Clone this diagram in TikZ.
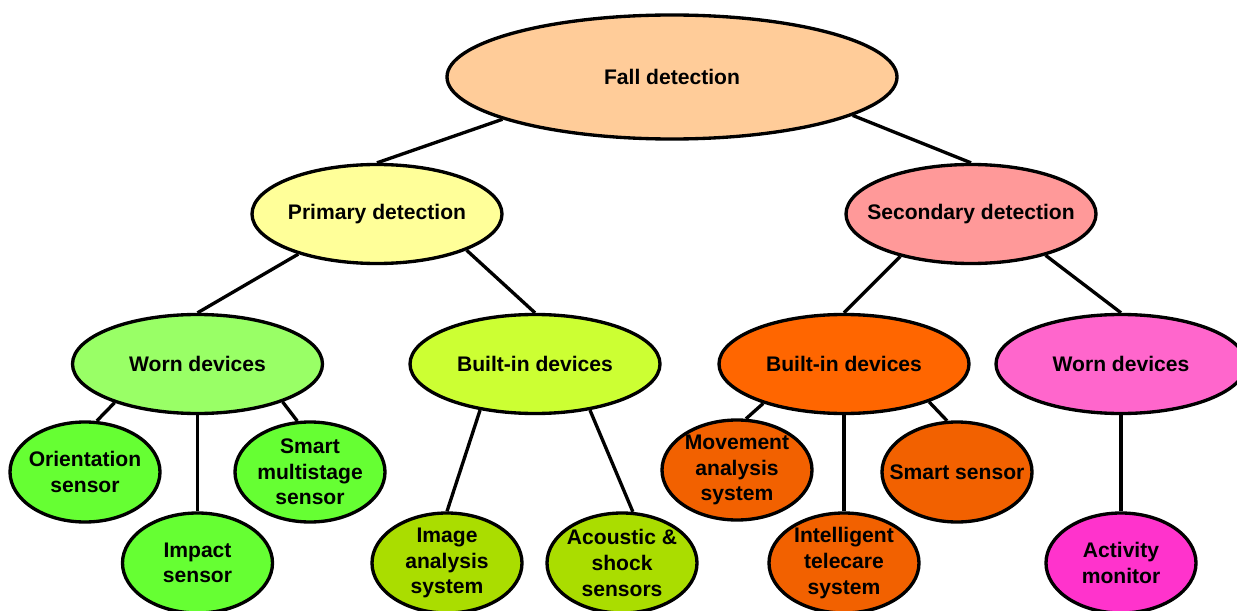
\documentclass[tikz,border=0pt]{standalone}
\usepackage{fontspec}
\setmainfont{Liberation Sans}
\usetikzlibrary{positioning,shapes.geometric}
\definecolor{peach}{HTML}{FFCC99}
\definecolor{paleyellow}{HTML}{FFFF99}
\definecolor{salmon}{HTML}{FF9999}
\definecolor{softgreen}{HTML}{99FF66}
\definecolor{limegreen}{HTML}{CCFF33}
\definecolor{brightgreen}{HTML}{66FF33}
\definecolor{olivelime}{HTML}{AADD00}
\definecolor{deeporange}{HTML}{FF6600}
\definecolor{burntorange}{HTML}{F26100}
\definecolor{pinkish}{HTML}{FF66CC}
\definecolor{magentapink}{HTML}{FF33CC}

\begin{document}
\begin{tikzpicture}[
    font=\fontsize{12}{14.6}\selectfont\bfseries,
    blob/.style={draw=black, ellipse, line width=1.9pt, inner xsep=-30pt, inner ysep=-15pt, align=center},
    rootblob/.style={blob, minimum width=9cm, minimum height=2.48cm},
    midblob/.style={blob, minimum width=5cm, minimum height=1.98cm},
    leafblob/.style={blob, minimum width=3cm, minimum height=2cm},
    link/.style={line width=1.9pt, black},
]
    \clip (0, 0) rectangle (24.74, 12.2);

    % --- Root ---
    \node[rootblob, fill=peach] (fall) at (13.44, 10.66) {Fall detection};

    % --- Detection types ---
    \node[midblob, fill=paleyellow] (prim) at (7.54, 7.92) {Primary detection};
    \node[midblob, fill=salmon] (sec) at (19.42, 7.92) {Secondary detection};

    % --- Device groups ---
    \node[midblob, fill=softgreen] (wornL) at (3.95, 4.92) {Worn devices};
    \node[midblob, fill=limegreen] (builtL) at (10.70, 4.92) {Built-in devices};
    \node[midblob, fill=deeporange] (builtR) at (16.88, 4.92) {Built-in devices};
    \node[midblob, fill=pinkish] (wornR) at (22.42, 4.92) {Worn devices};

    % --- Leaves (worn, primary) ---
    \node[leafblob, fill=brightgreen] (orient) at (1.70, 2.76) {Orientation\\sensor};
    \node[leafblob, fill=brightgreen] (impact) at (3.95, 0.94) {Impact\\sensor};
    \node[leafblob, fill=brightgreen] (multi) at (6.20, 2.76) {Smart\\multistage\\sensor};

    % --- Leaves (built-in, primary) ---
    \node[leafblob, fill=olivelime] (image) at (8.94, 0.94) {Image\\analysis\\system};
    \node[leafblob, fill=olivelime] (acoustic) at (12.44, 0.94) {Acoustic \&\\shock\\sensors};

    % --- Leaves (secondary) ---
    \node[leafblob, fill=burntorange] (movement) at (14.74, 2.80) {Movement\\analysis\\system};
    \node[leafblob, fill=burntorange] (telecare) at (16.88, 0.94) {Intelligent\\telecare\\system};
    \node[leafblob, fill=burntorange] (smart) at (19.14, 2.76) {Smart sensor};
    \node[leafblob, fill=magentapink] (activity) at (22.42, 0.94) {Activity\\monitor};

    % --- Links ---
    \draw[link] (fall.194) -- (prim.north);
    \draw[link] (fall.348) -- (sec.north);

    \draw[link] (prim.207) -- (wornL.north);
    \draw[link] (prim.338) -- (builtL.north);
    \draw[link] (sec.211) -- (builtR.north);
    \draw[link] (sec.331) -- (wornR.north);

    \draw[link] (wornL.205) -- (orient.77);
    \draw[link] (wornL.south) -- (impact.north);
    \draw[link] (wornL.336) -- (multi.104);

    \draw[link] (builtL.220) -- (image.north);
    \draw[link] (builtL.320) -- (acoustic.78);

    \draw[link] (builtR.206) -- (movement.80);
    \draw[link] (builtR.south) -- (telecare.north);
    \draw[link] (builtR.336) -- (smart.101);

    \draw[link] (wornR.south) -- (activity.north);
\end{tikzpicture}
\end{document}
